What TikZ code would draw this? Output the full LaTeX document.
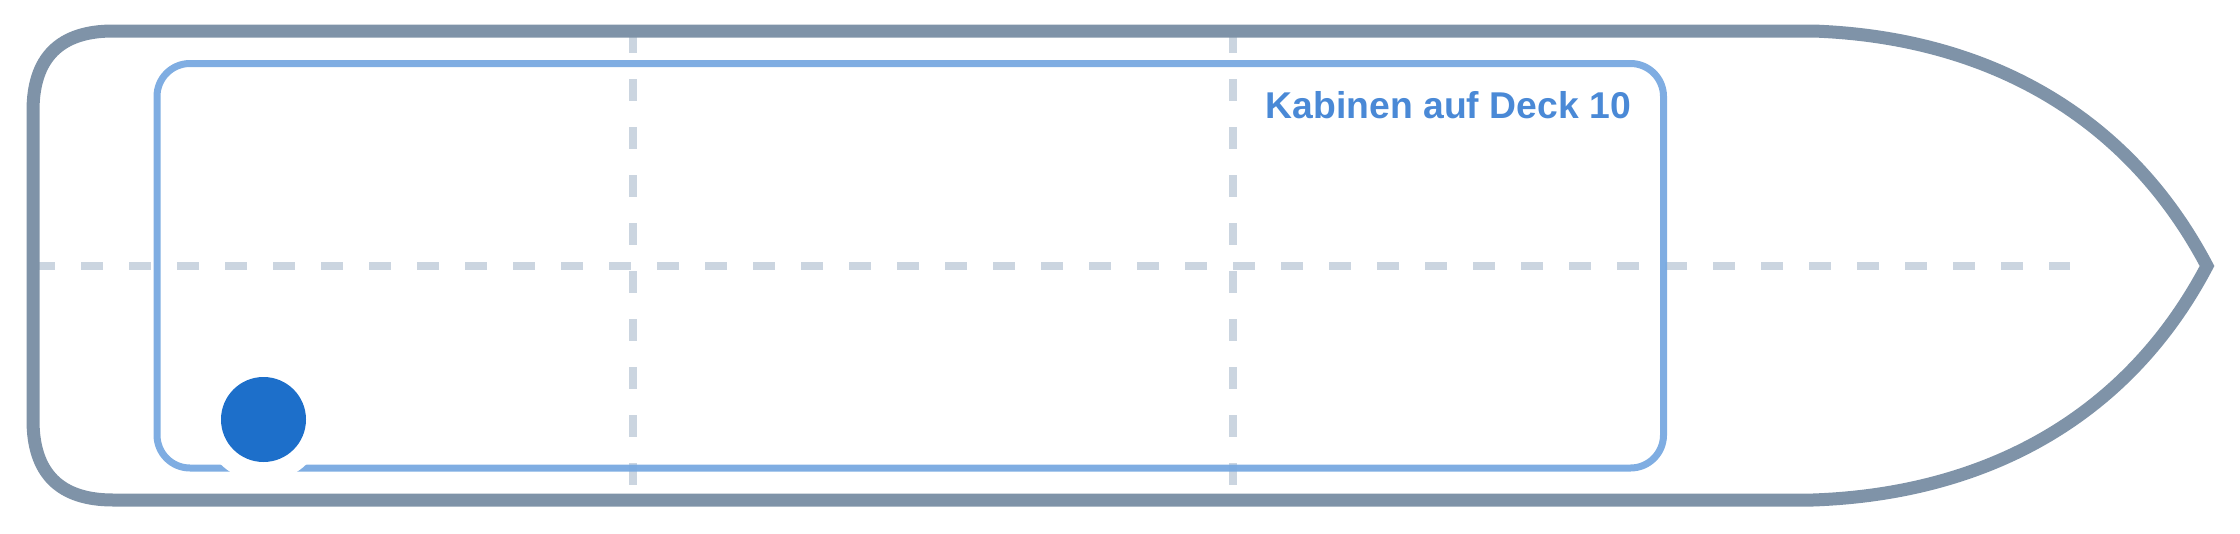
\documentclass[tikz,border=0pt]{standalone}
\usepackage{fontspec}
\setmainfont{Liberation Sans}
\definecolor{hullc}{HTML}{7F93A8}
\definecolor{deckc}{HTML}{78A9E0}
\definecolor{gridc}{HTML}{CBD5E0}
\definecolor{textc}{HTML}{4A89D6}
\definecolor{dotc}{HTML}{1D6FCA}
\tikzset{
  hull/.style={draw=hullc, line width=13pt, line join=miter},
  deck/.style={draw=deckc, line width=7pt, rounded corners=33pt},
  gridline/.style={draw=gridc, line width=8pt, dash pattern=on 22pt off 26pt},
  label/.style={text=textc, font=\bfseries\fontsize{37.3}{37.3}\selectfont, inner sep=0pt, anchor=base east},
  halo/.style={circle, fill=white, minimum size=124pt, inner sep=0pt},
  dot/.style={circle, fill=dotc, minimum size=85pt, inner sep=0pt}
}
\begin{document}
\begin{tikzpicture}[x=1pt,y=-1pt]
\useasboundingbox (0,0) rectangle (2240,533);
% grid lines
\coordinate (hL) at (33,266);
\coordinate (hR) at (2070,266);
\coordinate (v1T) at (633,31);
\coordinate (v1B) at (633,500);
\coordinate (v2T) at (1233,31);
\coordinate (v2B) at (1233,500);
\draw[gridline] (hL) -- (hR);
\draw[gridline] (v1T) -- (v1B);
\draw[gridline] (v2T) -- (v2B);
% deck outline
\draw[deck, draw opacity=0.95] (157,63.5) rectangle (1663.5,468);
% hull
\draw[hull] (113,31) -- (1813,31)
  .. controls (1984.3,37) and (2126.7,113.3) .. (2207,266)
  .. controls (2126.7,418.7) and (1984.3,494) .. (1813,500)
  -- (113,500)
  .. controls (59.7,500) and (33,473.3) .. (33,420)
  -- (33,111)
  .. controls (33,57.7) and (59.7,31) .. (113,31) -- cycle;
% marker
\node[halo] (halo) at (263.5,419.5) {};
\node[dot] (dot) at (263.5,419.5) {};
% label
\node[label] (title) at (1631,118) {Kabinen auf Deck 10};
\end{tikzpicture}
\end{document}
